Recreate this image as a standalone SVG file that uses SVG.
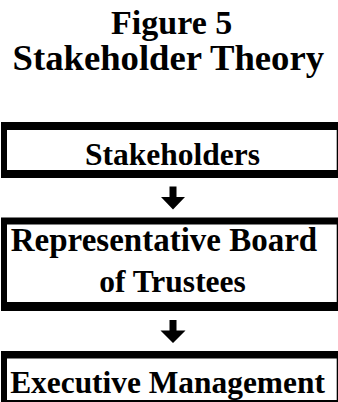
<svg xmlns="http://www.w3.org/2000/svg" width="338" height="402" viewBox="0 0 338 402">
<style>
  .t { font-family: "Liberation Serif", "Times New Roman", Tinos, Times, serif; font-weight: 700; fill: #000; text-anchor: middle; }
  .border { fill: #000; }
  .inner { fill: #fff; }
  .arrow { fill: #000; }
</style>
<rect width="338" height="402" fill="#fff"/>
<g id="title">
  <text class="t" x="171.7" y="34" font-size="34">Figure 5</text>
  <text class="t" x="168.3" y="70" font-size="36.7">Stakeholder Theory</text>
</g>
<g id="stakeholders">
  <rect class="border" x="1" y="122" width="337" height="56"/>
  <rect class="inner" x="7" y="130" width="329.7" height="40"/>
  <text class="t" x="172.5" y="165" font-size="31.5">Stakeholders</text>
</g>
<g id="board">
  <rect class="border" x="1" y="217.5" width="337" height="93.5"/>
  <rect class="inner" x="7" y="224.5" width="329.7" height="77.5"/>
  <text class="t" x="164" y="250.5" font-size="33">Representative Board</text>
  <text class="t" x="172.5" y="291.7" font-size="31.5">of Trustees</text>
</g>
<g id="executive">
  <rect class="border" x="1" y="351" width="337" height="51"/>
  <rect class="inner" x="7" y="358.5" width="329.7" height="41.5"/>
  <text class="t" x="167.5" y="393.3" font-size="31.4">Executive Management</text>
</g>
<g id="connectors">
  <polygon class="arrow" points="169.5,186.5 176.5,186.5 176.5,197 185,197 173,209.5 161,197 169.5,197"/>
  <polygon class="arrow" points="169.5,320 176.5,320 176.5,330.5 185.5,330.5 173,343 160.5,330.5 169.5,330.5"/>
</g>
</svg>
